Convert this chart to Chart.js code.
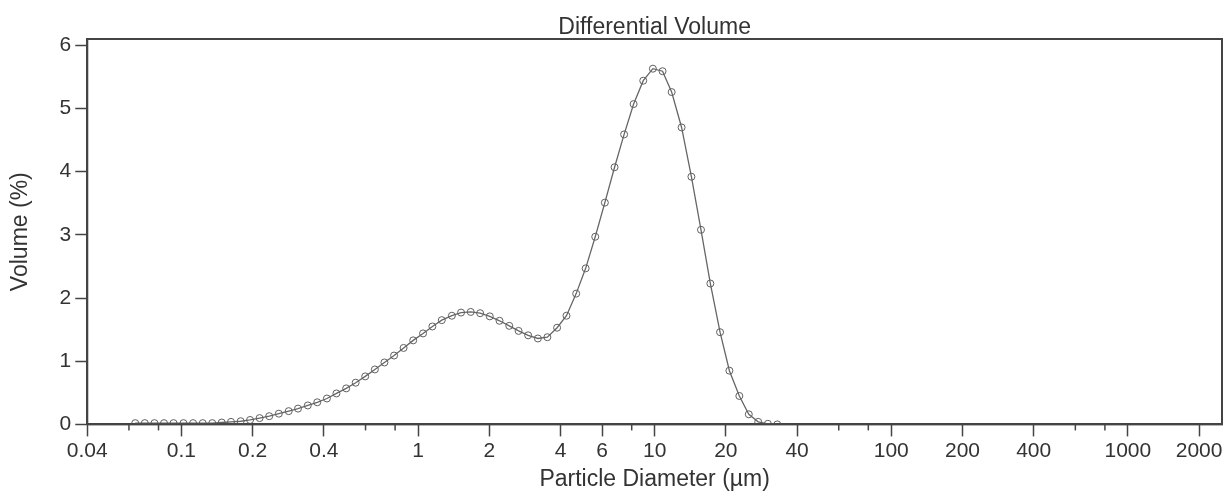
<!DOCTYPE html>
<html>
<head>
<meta charset="utf-8">
<title>Differential Volume</title>
<script src="https://cdn.jsdelivr.net/npm/chart.js@4.4.1/dist/chart.umd.min.js"></script>
<style>
  html, body { margin: 0; padding: 0; background: #fff; }
  #wrap { width: 1227px; height: 493px; }
</style>
</head>
<body>
<div id="wrap"><canvas id="diffVolume" width="1227" height="493"></canvas></div>
<script>
// particle diameter of each channel (µm)
const diameters = [
  0.0638, 0.0700, 0.0769, 0.0844, 0.0926, 0.102, 0.112, 0.123, 0.135, 0.148,
  0.162, 0.178, 0.195, 0.214, 0.235, 0.258, 0.284, 0.311, 0.342, 0.375,
  0.412, 0.452, 0.497, 0.545, 0.598, 0.657, 0.721, 0.792, 0.869, 0.954,
  1.05, 1.15, 1.26, 1.39, 1.52, 1.67, 1.83, 2.01, 2.21, 2.43,
  2.66, 2.92, 3.21, 3.52, 3.87, 4.24, 4.66, 5.11, 5.61, 6.16,
  6.77, 7.43, 8.15, 8.95, 9.83, 10.8, 11.8, 13.0, 14.3, 15.7,
  17.2, 18.9, 20.7, 22.8, 25.0, 27.4, 30.1, 33.0
];
// volume (%) per channel
const volumes = [
  0.02, 0.02, 0.02, 0.02, 0.02, 0.02, 0.02, 0.02, 0.02, 0.03,
  0.04, 0.05, 0.07, 0.10, 0.13, 0.17, 0.21, 0.25, 0.30, 0.35,
  0.41, 0.49, 0.57, 0.66, 0.76, 0.87, 0.98, 1.09, 1.21, 1.33,
  1.44, 1.55, 1.65, 1.72, 1.77, 1.78, 1.76, 1.71, 1.64, 1.56,
  1.48, 1.41, 1.36, 1.38, 1.53, 1.72, 2.07, 2.47, 2.97, 3.51,
  4.07, 4.59, 5.07, 5.44, 5.63, 5.59, 5.26, 4.70, 3.92, 3.08,
  2.23, 1.46, 0.85, 0.45, 0.16, 0.04, 0.01, 0.00
];
const xMajorTicks = [0.04, 0.1, 0.2, 0.4, 1, 2, 4, 6, 10, 20, 40, 100, 200, 400, 1000, 2000];
const xMinorTicks = [0.06, 0.08, 0.6, 0.8, 8, 60, 80, 600, 800];
const yTicks = [0, 1, 2, 3, 4, 5, 6];

Chart.defaults.font.family = '"Liberation Sans", Arial, sans-serif';
Chart.defaults.font.size = 21;
Chart.defaults.color = '#333';

const axisColor = '#444';

// box round the plot and the short unlabelled ticks on the x axis
const frameAndMinor = {
  id: 'frameAndMinor',
  afterDraw(chart) {
    const {ctx, chartArea: a} = chart;
    const x = chart.scales.x;
    ctx.save();
    ctx.strokeStyle = axisColor;
    ctx.lineWidth = 2;
    ctx.strokeRect(a.left, a.top, a.right - a.left, a.bottom - a.top);
    ctx.lineWidth = 1.5;
    xMinorTicks.forEach(v => {
      const px = x.getPixelForValue(v);
      ctx.beginPath();
      ctx.moveTo(px, a.bottom);
      ctx.lineTo(px, a.bottom + 6);
      ctx.stroke();
    });
    ctx.restore();
  }
};

const chart = new Chart(document.getElementById('diffVolume'), {
  type: 'line',
  data: {
    datasets: [{
      label: 'Volume',
      data: diameters.map((d, i) => ({x: d, y: volumes[i]})),
      borderColor: '#666',
      borderWidth: 1.3,
      pointStyle: 'circle',
      pointRadius: 3.5,
      pointBorderWidth: 1,
      pointBorderColor: '#5f5f5f',
      pointBackgroundColor: 'rgba(255,255,255,0)',
      tension: 0
    }]
  },
  options: {
    responsive: false,
    animation: false,
    layout: { padding: { right: 4, left: 2, bottom: 0 } },
    plugins: {
      legend: { display: false },
      tooltip: { enabled: false },
      title: {
        display: true,
        text: 'Differential Volume',
        fullSize: false,
        font: { size: 23, weight: 'normal', lineHeight: 1 },
        color: '#333',
        padding: { top: 16, bottom: 0 }
      }
    },
    scales: {
      x: {
        type: 'logarithmic',
        min: 0.04,
        max: 2500,
        afterBuildTicks: axis => { axis.ticks = xMajorTicks.map(v => ({value: v})); },
        ticks: {
          autoSkip: false,
          maxRotation: 0,
          padding: 4,
          font: { lineHeight: 1 },
          callback: v => String(v)
        },
        grid: {
          drawOnChartArea: false,
          tickLength: 12,
          tickColor: axisColor,
          tickWidth: 1.5
        },
        border: { color: axisColor, width: 2 },
        title: {
          display: true,
          text: 'Particle Diameter (µm)',
          font: { size: 23 },
          padding: { top: 0, bottom: 0 }
        }
      },
      y: {
        min: 0,
        max: 6.1,
        afterBuildTicks: axis => { axis.ticks = yTicks.map(v => ({value: v})); },
        ticks: { padding: 4 },
        grid: {
          drawOnChartArea: false,
          tickLength: 12,
          tickColor: axisColor,
          tickWidth: 1.5
        },
        border: { color: axisColor, width: 2 },
        title: {
          display: true,
          text: 'Volume (%)',
          font: { size: 23 },
          padding: { top: 5, bottom: 21 }
        }
      }
    }
  },
  plugins: [frameAndMinor]
});
</script>
</body>
</html>
